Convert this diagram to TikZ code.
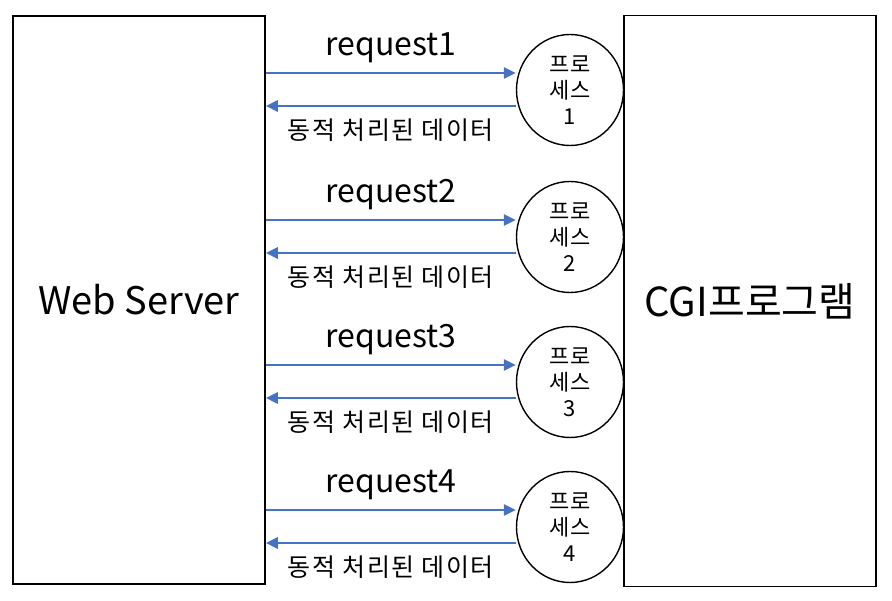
\documentclass[tikz,border=0pt]{standalone}
\usepackage{fontspec}
\setmainfont{Noto Sans CJK KR}
\usetikzlibrary{arrows.meta,shapes.geometric}

\definecolor{arrowblue}{HTML}{4472C4}

\begin{document}
\begin{tikzpicture}[x=1pt, y=-1pt, line cap=butt, line join=miter,
    bigbox/.style={draw, line width=1.6pt, minimum width=252pt, minimum height=568pt, inner sep=0pt},
    proc/.style={draw, line width=1.4pt, ellipse, minimum width=107pt, minimum height=111pt,
        inner sep=0pt, align=center, font=\fontsize{22}{26}\selectfont},
    msg/.style={draw=arrowblue, line width=2.8pt, -{Triangle[length=12pt,width=11pt]}},
    reqlabel/.style={font=\fontsize{32}{34}\selectfont},
    datalabel/.style={font=\fontsize{25}{28}\selectfont\addfontfeature{LetterSpace=6}}]

    % ── Frame (keeps the reference proportions) ─────────────────────────────
    \useasboundingbox (0,0) rectangle (892,601);

    % ── Web server and CGI program ───────────────────────────────────────────
    \node[bigbox, font=\fontsize{38}{42}\selectfont] (web) at (139,300) {Web Server};
    \node[bigbox, minimum height=571pt, font=\fontsize{40}{44}\selectfont] (cgi) at (750,301) {CGI프로그램};

    % ── One process per request ──────────────────────────────────────────────
    \foreach \i/\y in {1/90, 2/237, 3/382, 4/527} {
        \node[proc] (p\i) at (570,\y) {프로\\세스\\\i};

        % request goes out
        \coordinate (out\i) at ([yshift=17pt]p\i.west);
        \draw[msg] (web.east |- out\i) -- node[reqlabel, above=5pt] {request\i} (out\i);

        % processed data comes back
        \coordinate (back\i) at ([yshift=-16pt]p\i.west);
        \draw[msg] (back\i) -- node[datalabel, below=8pt] {동적 처리된 데이터} (web.east |- back\i);
    }

\end{tikzpicture}
\end{document}
